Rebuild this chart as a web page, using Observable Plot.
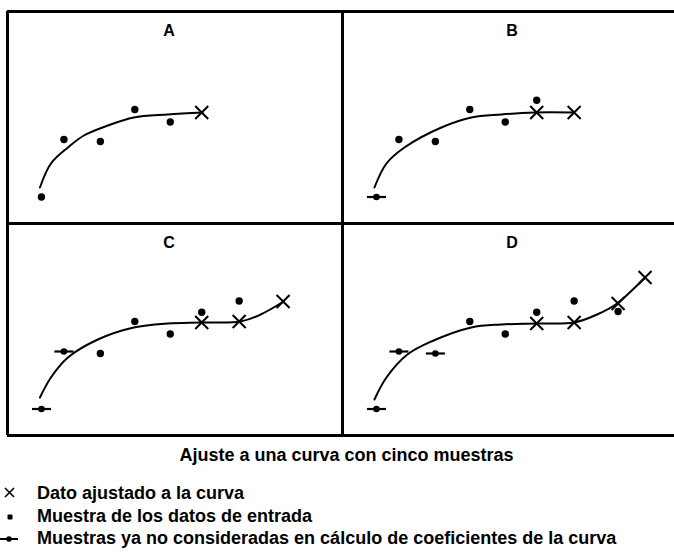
<!DOCTYPE html>
<html>
<head>
<meta charset="utf-8">
<script src="https://cdn.jsdelivr.net/npm/d3@7"></script>
<script src="https://cdn.jsdelivr.net/npm/@observablehq/plot@0.6"></script>
<style>
  html, body { margin: 0; padding: 0; background: #fff; overflow: hidden; }
  #wrap { position: relative; width: 674px; height: 559px; font-family: "Liberation Sans", Arial, sans-serif; color: #000; }
  #chart { position: absolute; left: 0; top: 0; }
  .txt { position: absolute; font-size: 18px; font-weight: bold; line-height: 22px; white-space: nowrap; }
  .icon { position: absolute; }
</style>
</head>
<body>
<div id="wrap">
  <div id="chart"></div>
  <div class="txt" id="caption" style="left:0; width:674px; top:444px; text-align:center; padding-left:19px; box-sizing:border-box;">Ajuste a una curva con cinco muestras</div>
  <svg class="icon" style="left:0; top:484px" width="24" height="20"><path d="M5,4 L14,13 M5,13 L14,4" stroke="#000" stroke-width="1.6" fill="none"/></svg>
  <div class="txt" style="left:37px; top:482px;">Dato ajustado a la curva</div>
  <svg class="icon" style="left:0; top:507px" width="24" height="20"><rect x="7.5" y="7.5" width="5" height="5" rx="1" fill="#000"/></svg>
  <div class="txt" style="left:37px; top:505px;">Muestra de los datos de entrada</div>
  <svg class="icon" style="left:0; top:529px" width="24" height="20"><path d="M0,10 L18,10" stroke="#000" stroke-width="2"/><circle cx="9" cy="10" r="2.8" fill="#000"/></svg>
  <div class="txt" style="left:37px; top:527px;">Muestras ya no consideradas en cálculo de coeficientes de la curva</div>
</div>
<script>
// Panels
const panels = ["A", "B", "C", "D"];
const panelCol = [0, 1, 0, 1];
const panelRow = [0, 0, 1, 1];

// Input samples (time, value)
const sampleT = [34, 56.5, 93, 127.5, 163, 194.5, 232, 276];
const sampleV = [26.5, 84, 82, 114, 101.5, 123.3, 134.5, 124];

// Fitted values (times and per-panel values)
const fitT = [194.5, 232, 276, 303];
const fitA = [111];
const fitB = [111, 111];
const fitC = [113, 114, 134];
const fitD = [112, 113, 132, 158];

// Fitted curves per panel
const curveA_t = [32.5, 43.5, 60.5, 76.5, 100.5, 126.5, 160.5, 195.5];
const curveA_v = [36, 60, 76, 88, 98, 106, 109, 111];
const curveB_t = [32, 44, 62, 99, 129, 159, 192, 231];
const curveB_v = [36, 60, 76, 96, 106, 109, 111, 111];
const curveC_t = [32.5, 43.5, 60.5, 90.5, 126.5, 160.5, 193.5, 233.5, 253.5, 276.5];
const curveC_v = [38, 58, 78, 96, 108, 112, 113, 114, 121, 134];
const curveD_t = [32, 44, 65, 89, 129, 159, 194, 232, 255, 275, 303];
const curveD_v = [36, 58, 81, 94, 108, 111, 112, 113, 121, 132, 158];

const fits = [fitA, fitB, fitC, fitD];
const curvesT = [curveA_t, curveB_t, curveC_t, curveD_t];
const curvesV = [curveA_v, curveB_v, curveC_v, curveD_v];

const sampleRows = [], fitRows = [], curveRows = [], labelRows = [];
panels.forEach((p, k) => {
  const base = {panel: p, col: panelCol[k], row: panelRow[k]};
  labelRows.push(base);
  for (let i = 0; i <= k + 4; i++) {
    sampleRows.push({...base, t: sampleT[i], v: sampleV[i], kind: i < k ? "dropped" : "sample"});
  }
  fits[k].forEach((v, j) => fitRows.push({...base, t: fitT[j], v}));
  curvesT[k].forEach((t, j) => curveRows.push({...base, t, v: curvesV[k][j]}));
});

const hline = {draw(ctx, size) { const r = Math.sqrt(size / Math.PI); ctx.moveTo(-r, 0); ctx.lineTo(r, 0); }};
const cross = {draw(ctx, size) { const r = Math.sqrt(size / Math.PI); ctx.moveTo(-r, -r); ctx.lineTo(r, r); ctx.moveTo(-r, r); ctx.lineTo(r, -r); }};

const kept = sampleRows.filter(d => d.kind === "sample");
const dropped = sampleRows.filter(d => d.kind === "dropped");

const chart = Plot.plot({
  width: 674,
  height: 437,
  marginLeft: 6.5,
  marginRight: -3.5,
  marginTop: 11,
  marginBottom: 2,
  style: {fontFamily: "Liberation Sans, Arial, sans-serif", background: "#fff", color: "#000"},
  x: {domain: [0, 335.5], axis: null},
  y: {domain: [0, 212], axis: null},
  fx: {axis: null, padding: 0, domain: [0, 1]},
  fy: {axis: null, padding: 0, domain: [0, 1]},
  marks: [
    Plot.ruleX([0], {stroke: "#000", strokeWidth: 3}),
    Plot.ruleY([0, 212], {stroke: "#000", strokeWidth: 3}),
    Plot.line(curveRows, {x: "t", y: "v", z: "panel", fx: "col", fy: "row", curve: "catmull-rom", stroke: "#000", strokeWidth: 2}),
    Plot.dot(kept, {x: "t", y: "v", fx: "col", fy: "row", r: 3.7, fill: "#000", stroke: null}),
    Plot.dot(dropped, {x: "t", y: "v", fx: "col", fy: "row", r: 3.3, fill: "#000", stroke: null}),
    Plot.dot(dropped, {x: "t", y: "v", fx: "col", fy: "row", symbol: hline, r: 9.5, stroke: "#000", strokeWidth: 2.2, fill: "none"}),
    Plot.dot(fitRows, {x: "t", y: "v", fx: "col", fy: "row", symbol: cross, r: 6.5, stroke: "#000", strokeWidth: 2, fill: "none"}),
    Plot.text(labelRows.filter(d => d.col === 0), {fx: "col", fy: "row", text: "panel", frameAnchor: "top", dy: 13, dx: -6, fontSize: 16, fontWeight: "bold", fill: "#000"}),
    Plot.text(labelRows.filter(d => d.col === 1), {fx: "col", fy: "row", text: "panel", frameAnchor: "top", dy: 13, dx: 2, fontSize: 16, fontWeight: "bold", fill: "#000"})
  ]
});
document.getElementById("chart").appendChild(chart);
</script>
</body>
</html>
